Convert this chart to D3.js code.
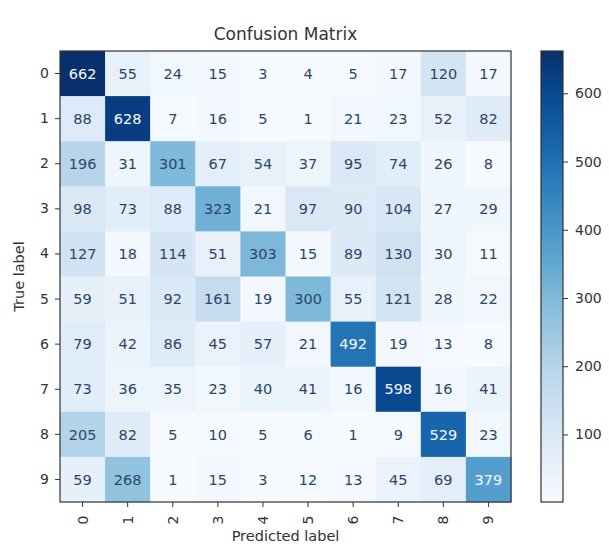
<!DOCTYPE html>
<html>
<head>
<meta charset="utf-8">
<script src="https://cdn.jsdelivr.net/npm/d3@7"></script>
<style>
  body { margin: 0; background: #fff; }
  svg { font-family: "DejaVu Sans", sans-serif; }
</style>
</head>
<body>
<div id="chart"></div>
<script>
// class labels (digits) and the confusion counts, rows = true label
var classLabels = ["0", "1", "2", "3", "4", "5", "6", "7", "8", "9"];
var matrix = [
  [662,  55,  24,  15,   3,   4,   5,  17, 120,  17],
  [ 88, 628,   7,  16,   5,   1,  21,  23,  52,  82],
  [196,  31, 301,  67,  54,  37,  95,  74,  26,   8],
  [ 98,  73,  88, 323,  21,  97,  90, 104,  27,  29],
  [127,  18, 114,  51, 303,  15,  89, 130,  30,  11],
  [ 59,  51,  92, 161,  19, 300,  55, 121,  28,  22],
  [ 79,  42,  86,  45,  57,  21, 492,  19,  13,   8],
  [ 73,  36,  35,  23,  40,  41,  16, 598,  16,  41],
  [205,  82,   5,  10,   5,   6,   1,   9, 529,  23],
  [ 59, 268,   1,  15,   3,  12,  13,  45,  69, 379]
];
var colorbarTicks = [100, 200, 300, 400, 500, 600];

var W = 609, H = 547;
var plotLeft = 60, plotTop = 51, size = 451;
var cbLeft = 541, cbWidth = 22;

var svg = d3.select("#chart").append("svg")
    .attr("width", W)
    .attr("height", H);

var cells = [];
matrix.forEach(function(row, i) {
    row.forEach(function(v, j) {
        cells.push({ t: classLabels[i], p: classLabels[j], v: v });
    });
});

var vmin = d3.min(cells, function(d) { return d.v; });
var vmax = d3.max(cells, function(d) { return d.v; });

var x = d3.scaleBand().domain(classLabels).range([plotLeft, plotLeft + size]);
var y = d3.scaleBand().domain(classLabels).range([plotTop, plotTop + size]);
var color = d3.scaleSequential(d3.interpolateBlues).domain([vmin, vmax]);
var thresh = (vmin + vmax) / 2;

svg.append("g").selectAll("rect")
    .data(cells)
    .enter().append("rect")
    .attr("x", function(d) { return x(d.p); })
    .attr("y", function(d) { return y(d.t); })
    .attr("width", x.bandwidth() + 0.5)
    .attr("height", y.bandwidth() + 0.5)
    .attr("fill", function(d) { return color(d.v); });

svg.append("g").selectAll("text")
    .data(cells)
    .enter().append("text")
    .attr("x", function(d) { return x(d.p) + x.bandwidth() / 2; })
    .attr("y", function(d) { return y(d.t) + y.bandwidth() / 2; })
    .attr("text-anchor", "middle")
    .attr("dy", "0.36em")
    .attr("font-size", 14.5)
    .attr("fill", function(d) { return d.v > thresh ? "#f7fbff" : "#2b4668"; })
    .text(function(d) { return d.v; });

// frame
svg.append("rect")
    .attr("x", plotLeft).attr("y", plotTop)
    .attr("width", size).attr("height", size)
    .attr("fill", "none")
    .attr("stroke", "#333")
    .attr("stroke-width", 1.2);

// axes
var yAxis = svg.append("g")
    .attr("transform", "translate(" + plotLeft + ",0)")
    .call(d3.axisLeft(y).tickSize(5).tickPadding(6));
var xAxis = svg.append("g")
    .attr("transform", "translate(0," + (plotTop + size) + ")")
    .call(d3.axisBottom(x).tickSize(5).tickPadding(5));

[yAxis, xAxis].forEach(function(a) {
    a.select(".domain").remove();
    a.selectAll("line").attr("stroke", "#333");
    a.selectAll("text").attr("font-size", 14).attr("fill", "#333")
        .attr("font-family", "DejaVu Sans");
});

// rotated x tick labels
xAxis.selectAll("text")
    .attr("transform", "rotate(-90)")
    .attr("text-anchor", "middle")
    .attr("x", -18)
    .attr("y", 0)
    .attr("dy", "0.36em");

svg.append("text")
    .attr("x", plotLeft + size / 2)
    .attr("y", 40)
    .attr("text-anchor", "middle")
    .attr("font-size", 17)
    .attr("fill", "#333")
    .text("Confusion Matrix");

svg.append("text")
    .attr("x", plotLeft + size / 2)
    .attr("y", 541)
    .attr("text-anchor", "middle")
    .attr("font-size", 14.5)
    .attr("fill", "#333")
    .text("Predicted label");

svg.append("text")
    .attr("transform", "translate(24," + (plotTop + size / 2) + ") rotate(-90)")
    .attr("text-anchor", "middle")
    .attr("font-size", 14.5)
    .attr("fill", "#333")
    .text("True label");

// colorbar
var cbScale = d3.scaleLinear().domain([vmin, vmax]).range([plotTop + size, plotTop]);

var defs = svg.append("defs");
var grad = defs.append("linearGradient")
    .attr("id", "cbGrad")
    .attr("x1", "0").attr("y1", "1")
    .attr("x2", "0").attr("y2", "0");
d3.range(0, 1.0001, 0.05).forEach(function(t) {
    grad.append("stop")
        .attr("offset", t)
        .attr("stop-color", color(vmin + t * (vmax - vmin)));
});

svg.append("rect")
    .attr("x", cbLeft).attr("y", plotTop)
    .attr("width", cbWidth).attr("height", size)
    .attr("fill", "url(#cbGrad)")
    .attr("stroke", "#333")
    .attr("stroke-width", 1.2);

var cbAxis = svg.append("g")
    .attr("transform", "translate(" + (cbLeft + cbWidth) + ",0)")
    .call(d3.axisRight(cbScale).tickValues(colorbarTicks).tickSize(5).tickPadding(7));
cbAxis.select(".domain").remove();
cbAxis.selectAll("line").attr("stroke", "#333");
cbAxis.selectAll("text").attr("font-size", 14).attr("fill", "#333")
    .attr("font-family", "DejaVu Sans");
</script>
</body>
</html>
